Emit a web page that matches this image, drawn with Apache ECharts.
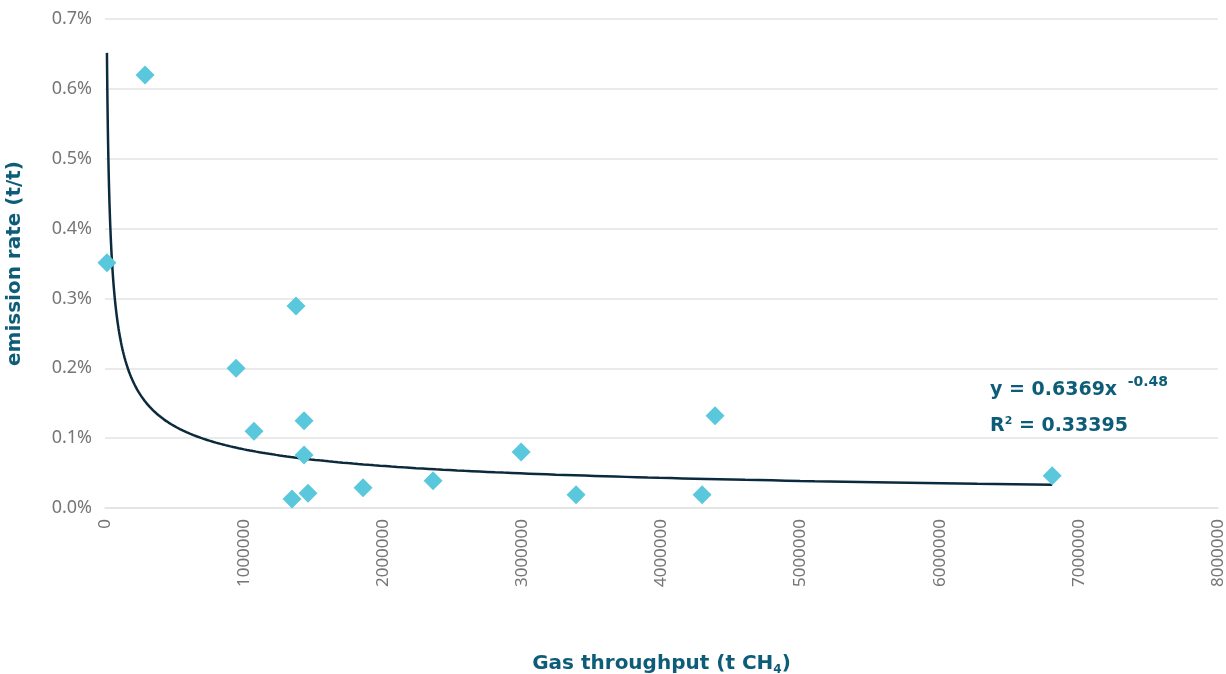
<!DOCTYPE html>
<html>
<head>
<meta charset="utf-8">
<script src="https://cdn.jsdelivr.net/npm/echarts@6/dist/echarts.min.js"></script>
<style>
  html, body { margin: 0; padding: 0; background: #fff; }
  #chart { width: 1226px; height: 674px; }
</style>
</head>
<body>
<div id="chart"></div>
<script>
// measured facilities: gas throughput (t CH4) and emission rate (t/t)
var throughput = [14000, 288000, 942000, 1373000, 1071000, 1431000, 1431000, 1344000,
                  1459000, 1855000, 2358000, 2991000, 3386000, 4292000, 4385000, 6808000];
var emissionRate = [0.00351, 0.00620, 0.00200, 0.00289, 0.00110, 0.00125, 0.00076, 0.00013,
                    0.00021, 0.00029, 0.00039, 0.00080, 0.00019, 0.00019, 0.00132, 0.00046];

// power trendline shown on the chart: y = 0.6369x^-0.48
var trendA = 0.6369;
var trendB = -0.48;

var scatterData = throughput.map(function (x, i) { return [x, emissionRate[i]]; });

var xMin = Math.min.apply(null, throughput);
var xMax = Math.max.apply(null, throughput);
var trendData = [];
for (var k = 0; k <= 300; k++) {
    var x = xMin * Math.pow(xMax / xMin, k / 300);
    trendData.push([x, trendA * Math.pow(x, trendB)]);
}

var titleColor = '#0e5d78';
var labelColor = '#767676';
var font = '"Noto Sans", sans-serif';
var boldFont = '"DejaVu Sans", sans-serif';

var option = {
    backgroundColor: '#fff',
    animation: false,
    grid: { left: 105, right: 8, top: 19, bottom: 166, outerBoundsMode: 'none', containLabel: false },
    xAxis: {
        type: 'value',
        min: 0,
        max: 8000000,
        interval: 1000000,
        name: '{a|Gas throughput (t CH}{s|4}{a|)}',
        nameLocation: 'middle',
        nameGap: 143,
        nameTextStyle: {
            rich: {
                a: { fontFamily: boldFont, fontSize: 20, fontWeight: 'bold', color: titleColor },
                s: { fontFamily: boldFont, fontSize: 12, fontWeight: 'bold', color: titleColor, padding: [13, 0, 0, 0] }
            }
        },
        axisLine: { show: true, lineStyle: { color: '#e3e3e3', width: 1.5 } },
        axisTick: { show: false },
        splitLine: { show: false },
        axisLabel: {
            rotate: 90,
            margin: 11,
            fontFamily: font,
            fontSize: 17,
            color: labelColor,
            formatter: function (v) { return String(v); }
        }
    },
    yAxis: {
        type: 'value',
        min: 0,
        max: 0.007,
        interval: 0.001,
        name: 'emission rate (t/t)',
        nameLocation: 'middle',
        nameGap: 80,
        nameTextStyle: { fontFamily: boldFont, fontSize: 20, fontWeight: 'bold', color: titleColor },
        axisLine: { show: false },
        axisTick: { show: false },
        splitLine: { lineStyle: { color: '#e3e3e3', width: 1.5 } },
        axisLabel: {
            margin: 13,
            fontFamily: font,
            fontSize: 18,
            color: labelColor,
            formatter: function (v) { return (v * 100).toFixed(1) + '%'; }
        }
    },
    series: [
        {
            name: 'trend',
            type: 'line',
            data: trendData,
            showSymbol: false,
            smooth: false,
            lineStyle: { color: '#0c2a3d', width: 2.5 },
            z: 2
        },
        {
            name: 'facilities',
            type: 'scatter',
            data: scatterData,
            symbol: 'diamond',
            symbolSize: 19,
            itemStyle: { color: '#5ac8dc', opacity: 1 },
            z: 3
        }
    ],
    graphic: [
        {
            type: 'text',
            left: 990,
            top: 375,
            style: {
                text: '{a|y = 0.6369x }{s|-0.48}\n{a|R}{t|2}{a| = 0.33395}',
                rich: {
                    a: { fontFamily: boldFont, fontSize: 19, fontWeight: 'bold', fill: titleColor, lineHeight: 36 },
                    s: { fontFamily: boldFont, fontSize: 14, fontWeight: 'bold', fill: titleColor, padding: [0, 0, 16, 4] },
                    t: { fontFamily: boldFont, fontSize: 11, fontWeight: 'bold', fill: titleColor, padding: [0, 0, 9, 0] }
                }
            }
        }
    ]
};

var myChart = echarts.init(document.getElementById('chart'));
myChart.setOption(option);
</script>
</body>
</html>
